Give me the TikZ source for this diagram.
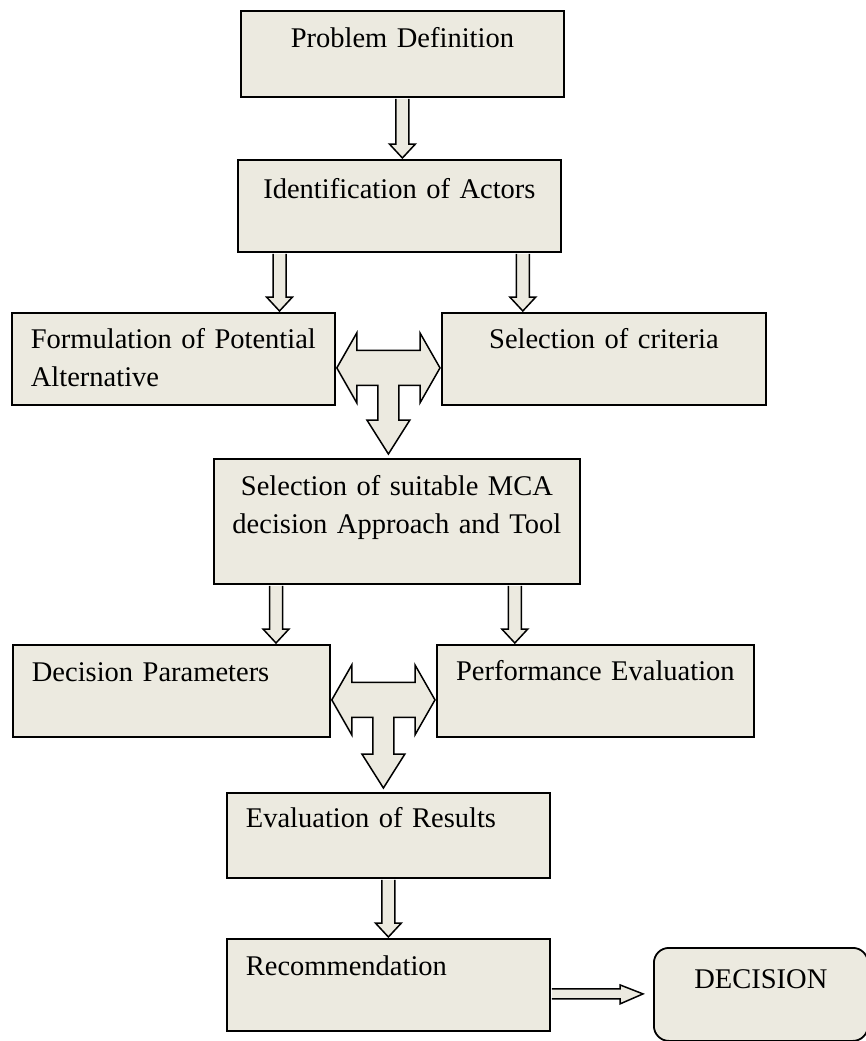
\documentclass[tikz,border=0pt]{standalone}
\usepackage{fontspec}
\setmainfont{Liberation Serif}
\usepackage{tikz}
\usetikzlibrary{calc}
\definecolor{boxfill}{HTML}{ECEAE0}
\tikzset{
	stage/.style={draw=black, line width=1.8pt, fill=boxfill, anchor=north west,
		inner ysep=0pt, text height=37pt, font=\fontsize{28.5}{37.5}\selectfont},
	cstage/.style={stage, inner xsep=4pt, align=center},
	lstage/.style={stage, inner xsep=19pt, align=left},
	blockarrow/.style={draw=black, line width=1.5pt, fill=boxfill, line join=miter}
}
% hollow down arrow: #1 start point, #2 target anchor
\newcommand{\stagearrow}[2]{%
	\draw[blockarrow] let \p1=#1, \p2=#2 in
		(\x1-6.5pt,\y1-1pt) -- (\x1-6.5pt,\y2+15pt) -- (\x1-13pt,\y2+15pt) -- (\x1,\y2+1pt)
		-- (\x1+13pt,\y2+15pt) -- (\x1+6.5pt,\y2+15pt) -- (\x1+6.5pt,\y1-1pt);}
% two-headed arrow with a stem: #1 left node, #2 right node, #3 node below
\newcommand{\teearrow}[3]{%
	\draw[blockarrow] let \p1=(#1.east), \p2=(#2.west), \p3=(#3.north) in
		(\x1+1pt,\y1-9pt) -- (\x1+21pt,\y1+26pt) -- (\x1+21pt,\y1+8.5pt)
		-- (\x2-21pt,\y1+8.5pt) -- (\x2-21pt,\y1+26pt) -- (\x2-1pt,\y1-9pt)
		-- (\x2-21pt,\y1-44pt) -- (\x2-21pt,\y1-26.5pt)
		-- ({(\x1+\x2)/2+10.5pt},\y1-26.5pt) -- ({(\x1+\x2)/2+10.5pt},\y3+38pt)
		-- ({(\x1+\x2)/2+21.5pt},\y3+38pt) -- ({(\x1+\x2)/2},\y3+4pt)
		-- ({(\x1+\x2)/2-21.5pt},\y3+38pt) -- ({(\x1+\x2)/2-10.5pt},\y3+38pt)
		-- ({(\x1+\x2)/2-10.5pt},\y1-26.5pt) -- (\x1+21pt,\y1-26.5pt)
		-- (\x1+21pt,\y1-44pt) -- cycle;}

\begin{document}
\begin{tikzpicture}[x=1pt,y=-1pt]
	\useasboundingbox (0,0) rectangle (865,1041);
	% stages
	\node[cstage, text width=315pt, text depth=49pt] (prob) at (240,10) {Problem Definition};
	\node[cstage, text width=315pt, text height=39pt, text depth=53pt] (ident) at (237,159) {Identification of Actors};
	\node[lstage, text width=285pt, text height=36pt, text depth=56pt] (form) at (11,312) {Formulation of Potential\\Alternative};
	\node[cstage, text width=316pt, text height=36pt, text depth=56pt] (crit) at (441,312) {Selection of criteria};
	\node[cstage, text width=358pt, text depth=88pt] (mca) at (213,458) {Selection of suitable MCA\\decision Approach and Tool};
	\node[lstage, text width=279pt, text depth=55pt] (dpar) at (12,644) {Decision Parameters};
	\node[cstage, text width=309pt, text height=36pt, text depth=56pt] (perf) at (436,644) {Performance Evaluation};
	\node[lstage, text width=285pt, text height=35pt, text depth=50pt] (eval) at (226,792) {Evaluation of Results};
	\node[lstage, text width=285pt, text depth=55pt] (rec) at (226,938) {Recommendation};
	\node[cstage, rounded corners=15pt, text width=206pt, text height=41pt, text depth=52pt] (dec) at (653,947) {DECISION};
	% arrows
	\stagearrow{(prob.south)}{(ident.north)}
	\stagearrow{([xshift=42.5pt]ident.south west)}{(form.north)}
	\stagearrow{([xshift=-39pt]ident.south east)}{(crit.north)}
	\teearrow{form}{crit}{mca}
	\stagearrow{([xshift=63pt]mca.south west)}{(dpar.north)}
	\stagearrow{([xshift=-66pt]mca.south east)}{(perf.north)}
	\teearrow{dpar}{perf}{eval}
	\stagearrow{(eval.south)}{(rec.north)}
	\draw[blockarrow] let \p1=(rec.east), \p2=(dec.west) in
		(\x1+1pt,\y1-4pt) -- (\x2-33pt,\y1-4pt) -- (\x2-33pt,\y1) -- (\x2-10pt,\y1-9pt)
		-- (\x2-33pt,\y1-19pt) -- (\x2-33pt,\y1-14pt) -- (\x1+1pt,\y1-14pt);
\end{tikzpicture}
\end{document}
